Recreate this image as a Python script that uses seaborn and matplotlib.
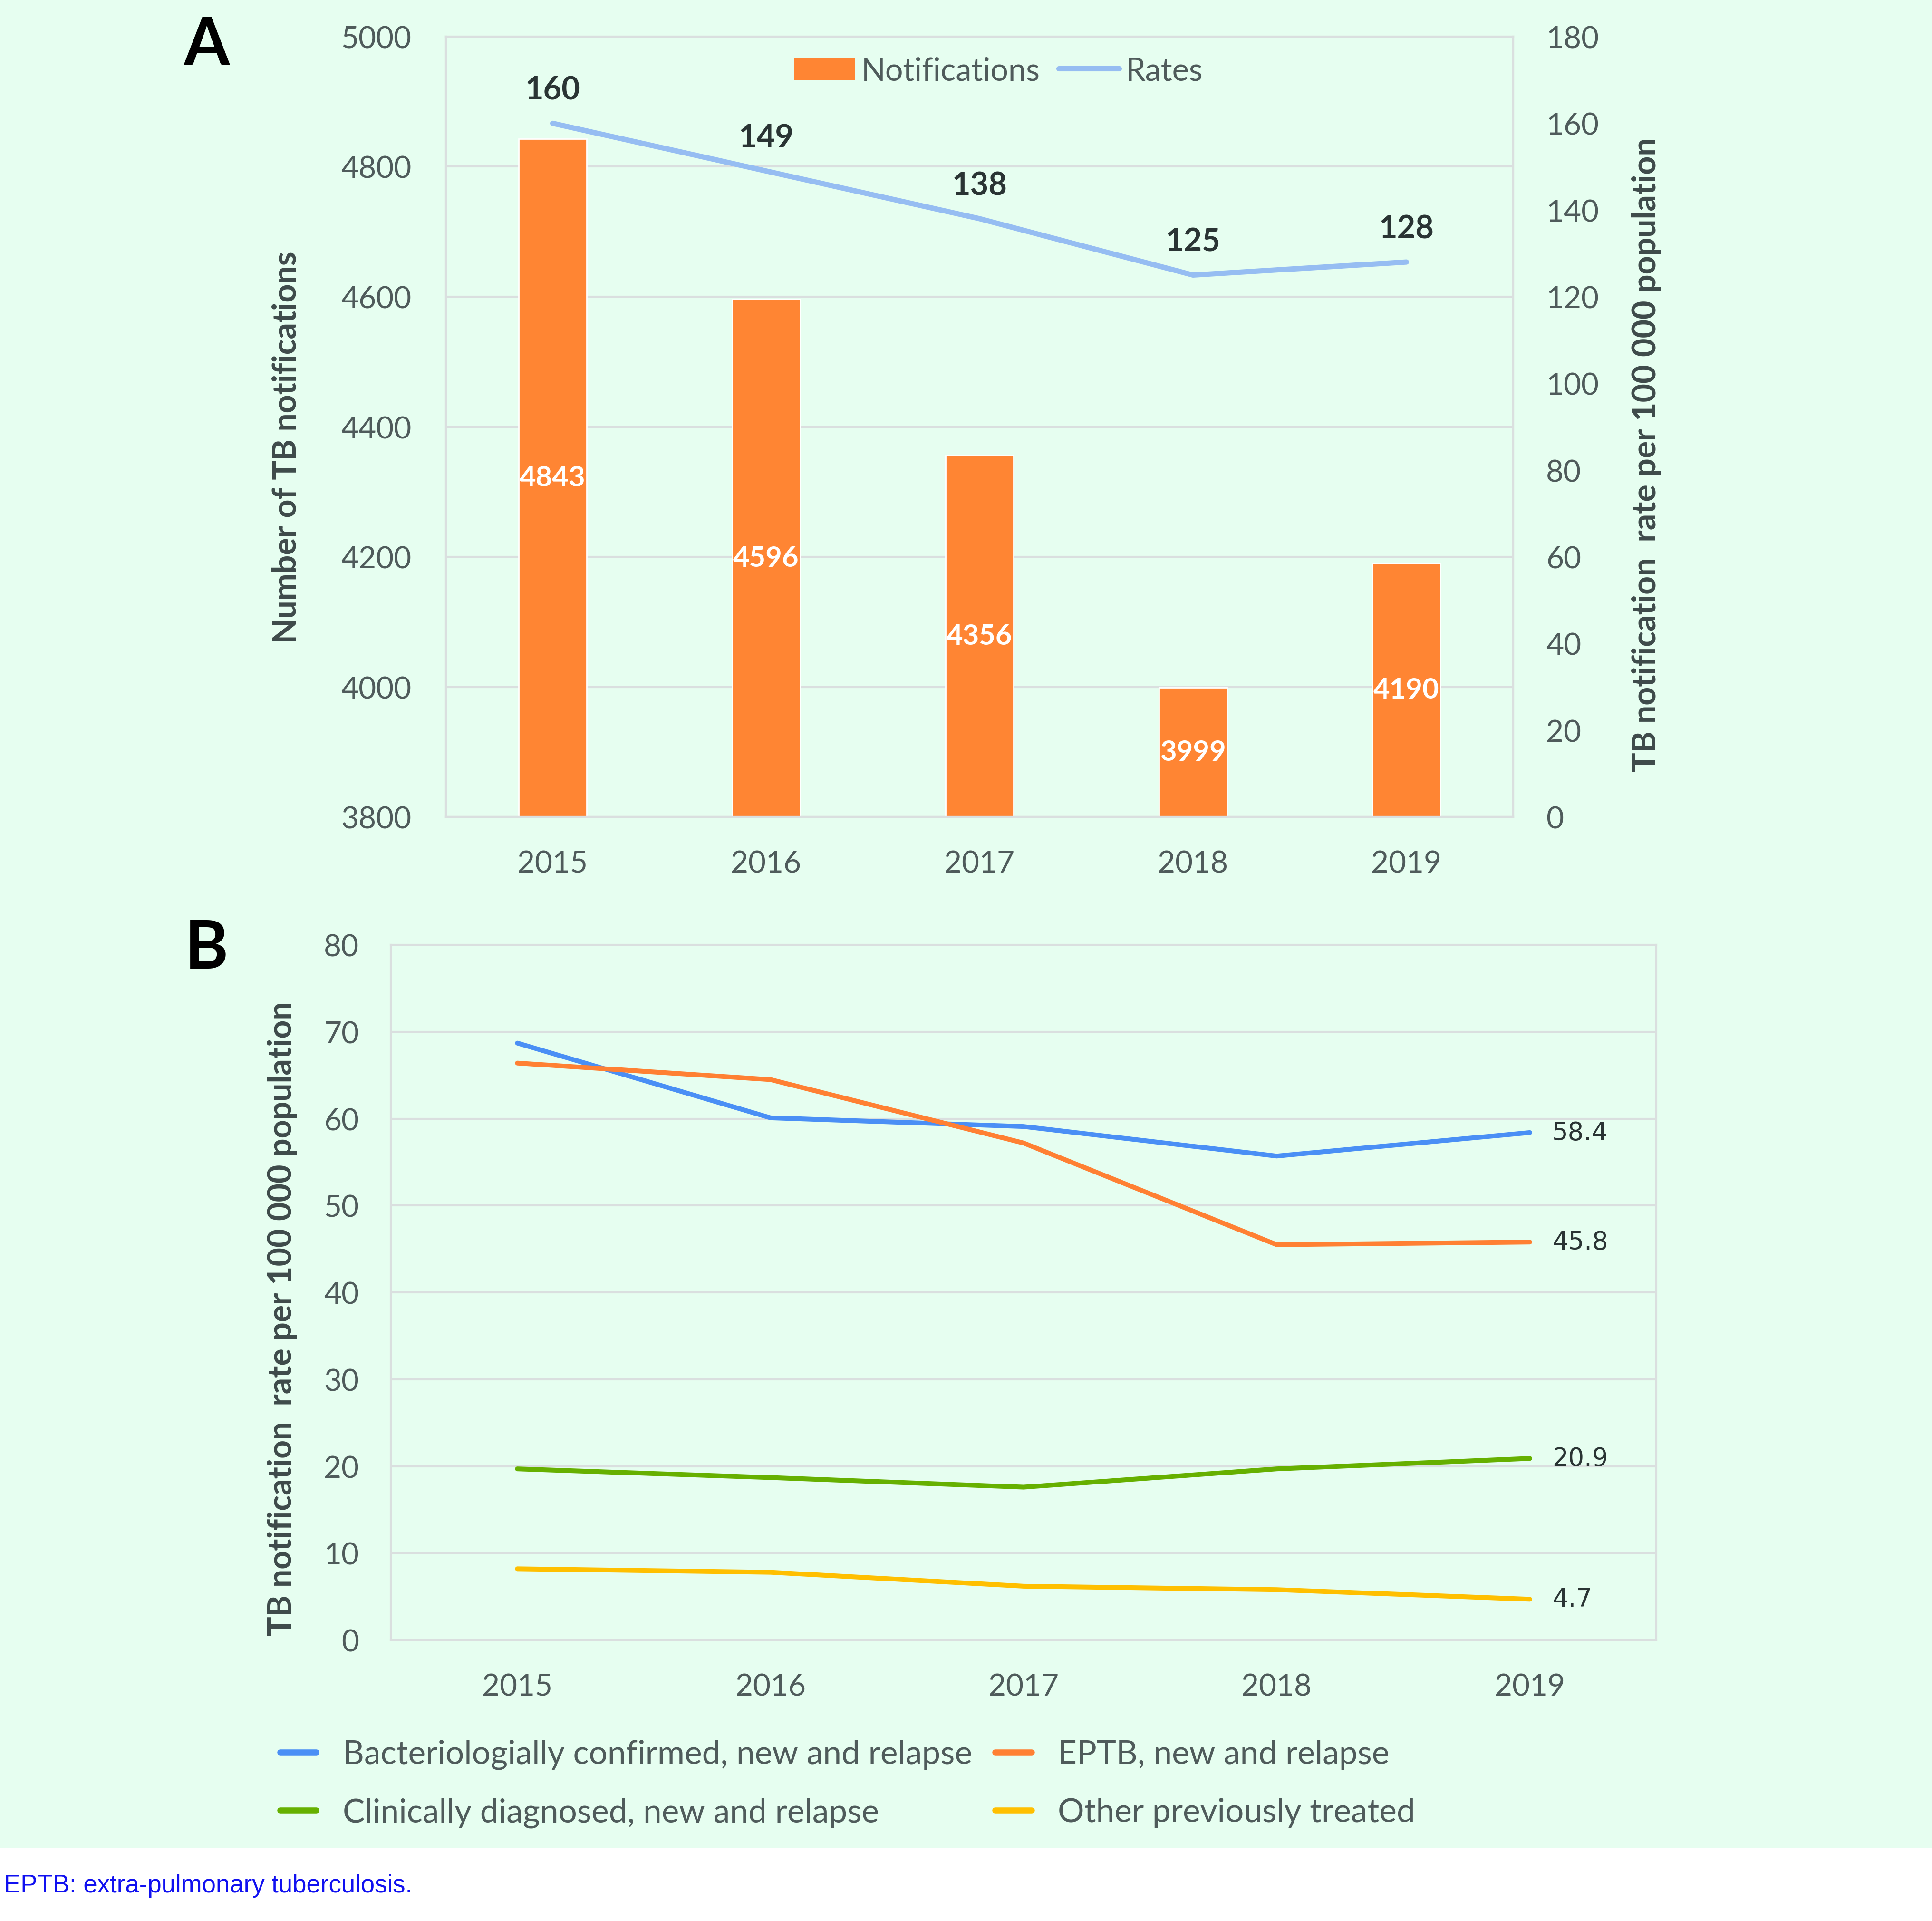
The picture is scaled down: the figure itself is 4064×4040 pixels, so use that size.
import numpy as np
import pandas as pd
import matplotlib
matplotlib.use("Agg")
import matplotlib.pyplot as plt
import seaborn as sns
from matplotlib.patches import Rectangle, Patch
from matplotlib.lines import Line2D

# ---- data ----
years = [2015, 2016, 2017, 2018, 2019]
notifications = [4843, 4596, 4356, 3999, 4190]
rates = [160, 149, 138, 125, 128]

series_names = [
    "Bacteriologially confirmed, new and relapse",
    "EPTB, new and relapse",
    "Clinically diagnosed, new and relapse",
    "Other previously treated",
]
bact_confirmed = [68.7, 60.1, 59.1, 55.7, 58.4]
eptb = [66.4, 64.5, 57.2, 45.5, 45.8]
clin_diagnosed = [19.7, 18.7, 17.6, 19.7, 20.9]
other_prev = [8.2, 7.8, 6.2, 5.8, 4.7]
end_labels = ["58.4", "45.8", "20.9", "4.7"]

left_ticks_a = [3800, 4000, 4200, 4400, 4600, 4800, 5000]
right_ticks_a = list(range(0, 181, 20))
ticks_b = list(range(0, 81, 10))

# ---- style ----
mint = "#E6FEF0"
grid_col = "#DADFDF"
tick_col = "#4F5B5B"
label_col = "#3E4A4A"
dark = "#2A3434"
bar_col = "#FF8533"
rate_col = "#96BDF2"
palette = {
    series_names[0]: "#4A8FF5",
    series_names[1]: "#FF8033",
    series_names[2]: "#66B000",
    series_names[3]: "#FFBF00",
}

sns.set_theme(style="white")
plt.rcParams["font.family"] = ["Lato", "DejaVu Sans"]

fig = plt.figure(figsize=(20.32, 20.205), dpi=200)
fig.patch.set_facecolor("white")
fig.add_artist(Rectangle((0, 0.0379), 1, 1, transform=fig.transFigure,
                         facecolor=mint, edgecolor="none", zorder=-10))

TICK_FS = 23
LAB_FS = 24.5


def style_axes(ax):
    ax.set_facecolor("none")
    for s in ax.spines.values():
        s.set_color(grid_col)
        s.set_linewidth(1.5)
    ax.tick_params(length=0, colors=tick_col, labelsize=TICK_FS)


# ================= Panel A =================
ax1 = fig.add_axes([0.2308, 0.5746, 0.5524, 0.4061])
df_a = pd.DataFrame({"Year": years, "Notifications": notifications, "Rates": rates})

sns.barplot(data=df_a, x="Year", y="Notifications", native_scale=True,
            color=bar_col, width=0.32, saturation=1, ax=ax1, zorder=2)
ax1.set_ylim(3800, 5000)
ax1.set_xlim(2014.5, 2019.5)
ax1.set_yticks(left_ticks_a)
ax1.set_xticks(years)
ax1.set_xticklabels([str(y) for y in years])
ax1.yaxis.grid(True, color=grid_col, linewidth=1.5, zorder=0)
ax1.set_axisbelow(True)
style_axes(ax1)
ax1.tick_params(axis="y", pad=26)
ax1.tick_params(axis="x", pad=25)
ax1.set_xlabel("")
ax1.set_ylabel("Number of TB notifications", fontsize=LAB_FS,
               fontweight="bold", color=label_col)
ax1.yaxis.set_label_coords(-0.135, 0.474)

for yr, v in zip(years, notifications):
    ax1.text(yr, (3800 + v) / 2, str(v), ha="center", va="center",
             color="white", fontsize=21.5, fontweight="bold", zorder=5)

ax2 = ax1.twinx()
sns.lineplot(data=df_a, x="Year", y="Rates", color=rate_col, linewidth=4,
             ax=ax2, solid_capstyle="round")
ax2.set_ylim(0, 180)
ax2.set_yticks(right_ticks_a)
style_axes(ax2)
ax2.tick_params(axis="y", pad=25)
ax2.set_ylabel("TB notification  rate per 100 000 population", fontsize=LAB_FS,
               fontweight="bold", color=label_col, rotation=90)
ax2.yaxis.set_label_coords(1.111, 0.465)
ax2.set_xlabel("")

for yr, r in zip(years, rates):
    ax2.annotate(str(r), (yr, r), xytext=(0, 25), textcoords="offset points",
                 ha="center", va="center", fontsize=24, fontweight="bold",
                 color=dark)

handles_a = [Patch(facecolor=bar_col, edgecolor="none"),
             Line2D([0], [0], color=rate_col, linewidth=4, solid_capstyle="round")]
ax1.legend(handles_a, ["Notifications", "Rates"], loc="center",
           bbox_to_anchor=(0.518, 0.956), ncol=2, frameon=False,
           fontsize=24, labelcolor=tick_col, handlelength=1.9,
           handleheight=0.75, handletextpad=0.2, columnspacing=0.6)

fig.text(0.107, 0.976, "A", fontsize=50, fontweight="bold", color="black",
         ha="center", va="center")

# ================= Panel B =================
ax3 = fig.add_axes([0.2023, 0.1462, 0.6550, 0.3618])
df_b = pd.DataFrame({
    "Year": years * 4,
    "Series": [n for n in series_names for _ in years],
    "Rate": bact_confirmed + eptb + clin_diagnosed + other_prev,
})
sns.lineplot(data=df_b, x="Year", y="Rate", hue="Series",
             hue_order=series_names, palette=palette, linewidth=3.6,
             ax=ax3, legend=False, solid_capstyle="round")
ax3.set_xlim(2014.5, 2019.5)
ax3.set_ylim(0, 80)
ax3.set_xticks(years)
ax3.set_xticklabels([str(y) for y in years])
ax3.set_yticks(ticks_b)
ax3.yaxis.grid(True, color=grid_col, linewidth=1.5, zorder=0)
ax3.set_axisbelow(True)
style_axes(ax3)
ax3.tick_params(axis="y", pad=24)
ax3.tick_params(axis="x", pad=25)
ax3.set_xlabel("")
ax3.set_ylabel("TB notification  rate per 100 000 population", fontsize=LAB_FS,
               fontweight="bold", color=label_col)
ax3.yaxis.set_label_coords(-0.074, 0.463)

last_vals = [bact_confirmed[-1], eptb[-1], clin_diagnosed[-1], other_prev[-1]]
for v, lab in zip(last_vals, end_labels):
    ax3.annotate(lab, (years[-1], v), xytext=(17, 0), textcoords="offset points",
                 ha="left", va="center", fontsize=19, color=dark,
                 family="DejaVu Sans")

fig.text(0.107, 0.506, "B", fontsize=50, fontweight="bold", color="black",
         ha="center", va="center")

order = [0, 2, 1, 3]
handles_b = [Line2D([0], [0], color=palette[series_names[i]], linewidth=4.5,
                    solid_capstyle="round") for i in order]
fig.legend(handles_b, [series_names[i] for i in order], loc="upper left",
           bbox_to_anchor=(0.1295, 0.110), ncol=2, frameon=False,
           fontsize=25, labelcolor=tick_col, handlelength=1.1,
           handletextpad=0.8, columnspacing=0.7, labelspacing=0.85)

fig.text(0.002, 0.0185, "EPTB: extra-pulmonary tuberculosis.", fontsize=19,
         color="#1010F0", ha="left", va="center", family="Liberation Sans")

fig.savefig("out.png", dpi=200, facecolor=fig.get_facecolor())
